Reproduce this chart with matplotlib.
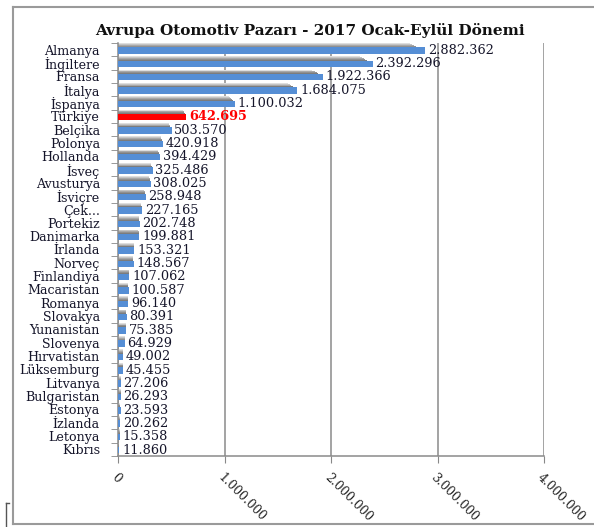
import numpy as np
import matplotlib
matplotlib.use("Agg")
from matplotlib import pyplot as plt
from matplotlib.lines import Line2D
from matplotlib.ticker import FixedLocator

countries = ["Almanya", "İngiltere", "Fransa", "İtalya", "İspanya", "Türkiye",
             "Belçika", "Polonya", "Hollanda", "İsveç", "Avusturya", "İsviçre",
             "Çek...", "Portekiz", "Danimarka", "İrlanda", "Norveç", "Finlandiya",
             "Macaristan", "Romanya", "Slovakya", "Yunanistan", "Slovenya",
             "Hırvatistan", "Lüksemburg", "Litvanya", "Bulgaristan", "Estonya",
             "İzlanda", "Letonya", "Kıbrıs"]
sales = [2882362, 2392296, 1922366, 1684075, 1100032, 642695,
         503570, 420918, 394429, 325486, 308025, 258948,
         227165, 202748, 199881, 153321, 148567, 107062,
         100587, 96140, 80391, 75385, 64929,
         49002, 45455, 27206, 26293, 23593,
         20262, 15358, 11860]
x_ticks = [0, 1000000, 2000000, 3000000, 4000000]
highlight = "Türkiye"

plt.rcParams["font.family"] = ["DejaVu Serif"]

W, H = 594, 527
fig = plt.figure(figsize=(W / 100, H / 100), dpi=100)
ax = fig.add_axes([118 / W, 1 - 456 / H, (544 - 118) / W, (456 - 43) / H])

n = len(countries)
y = np.arange(n)
vals = np.array(sales)
blue = "#558ED5"
colors = ["#FF0000" if c == highlight else blue for c in countries]

# gray gradient shadow sitting just above each bar
grays = ["#dedede", "#c4c4c4", "#a8a8a8", "#909090", "#7c7c7c", "#707070"]
for k, g in enumerate(grays):
    ax.barh(y - 0.46 + 0.065 * k, vals * (0.95 + 0.007 * k), height=0.07,
            color=g, linewidth=0, zorder=2)
ax.barh(y + 0.07, vals, height=0.48, color=colors, linewidth=0, zorder=3)

fmt = lambda v: f"{v:,}".replace(",", ".")
for i, (c, v) in enumerate(zip(countries, sales)):
    red = c == highlight
    ax.text(v + 25000, i + 0.05, fmt(v), va="center", ha="left", fontsize=9.3,
            color="#FF0000" if red else "#15152a", fontweight="bold" if red else "normal",
            zorder=4)

ax.set_xlim(0, 4000000)
ax.set_ylim(n - 0.5, -0.5)
ax.xaxis.set_major_locator(FixedLocator(x_ticks))
ax.set_xticklabels([fmt(t) for t in x_ticks], rotation=-45, ha="left", va="top",
                   rotation_mode="anchor", fontsize=8.8, color="#222222")
ax.tick_params(axis="x", length=5, color="#888888", pad=6)
ax.set_yticks(y)
ax.set_yticklabels(countries, fontsize=9.1, color="#15152a")
ax.tick_params(axis="y", which="major", length=0, pad=13)
ax.yaxis.set_minor_locator(FixedLocator(np.arange(-0.5, n, 1)))
ax.tick_params(axis="y", which="minor", length=5, color="#888888")

ax.grid(axis="x", color="#8a8a8a", linewidth=1.1, zorder=0)
for s in ["top", "right"]:
    ax.spines[s].set_visible(False)
for s in ["left", "bottom"]:
    ax.spines[s].set_color("#8a8a8a")
    ax.spines[s].set_linewidth(1.1)

fig.text(310 / W, 1 - 30 / H, "Avrupa Otomotiv Pazarı - 2017 Ocak-Eylül Dönemi",
         ha="center", va="center", fontsize=11, fontweight="bold", color="#111111")

# outer frame
fc = "#9a9a9a"
fig.add_artist(Line2D([13 / W, 1], [1 - 7 / H] * 2, color=fc, lw=1.5))
fig.add_artist(Line2D([13 / W] * 2, [1 - 7 / H, 1 - 524 / H], color=fc, lw=1.5))
fig.add_artist(Line2D([13 / W, 1], [1 - 524 / H] * 2, color=fc, lw=1.5))
fig.add_artist(Line2D([6 / W] * 2, [1 - 503 / H, 0], color="#555555", lw=1))
fig.add_artist(Line2D([6 / W, 9 / W], [1 - 503 / H] * 2, color="#555555", lw=1))

fig.savefig("out.png", dpi=100)
